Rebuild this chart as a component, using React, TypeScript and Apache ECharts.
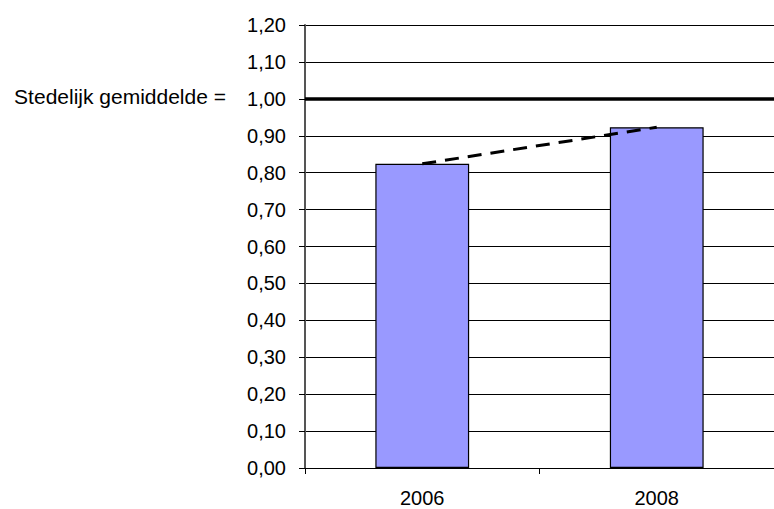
import React, { useEffect, useRef } from "react";
import * as echarts from "echarts";

const categories = ["2006", "2008"];
const values = [0.824, 0.923];
const cityAverage = 1.0;
const averageLabel = "Stedelijk gemiddelde =";

export default function App() {
  const ref = useRef<HTMLDivElement>(null);
  useEffect(() => {
    const chart = echarts.init(ref.current!, null, { renderer: "svg" });
    const font = "Liberation Sans";
    chart.setOption({
      animation: false,
      backgroundColor: "#ffffff",
      grid: { left: 305, top: 25, width: 474, height: 443, containLabel: false },
      xAxis: {
        type: "category",
        data: categories,
        boundaryGap: true,
        axisLine: { show: true, lineStyle: { color: "#000", width: 1 } },
        axisTick: { show: true, alignWithLabel: false, length: 6, lineStyle: { color: "#000" } },
        axisLabel: { color: "#000", fontSize: 20, fontFamily: font, margin: 20 },
        splitLine: { show: false },
      },
      yAxis: {
        type: "value",
        min: 0,
        max: 1.2,
        interval: 0.1,
        axisLine: { show: true, lineStyle: { color: "#555", width: 2 } },
        axisTick: { show: true, length: 6, lineStyle: { color: "#000" } },
        axisLabel: {
          color: "#000",
          fontSize: 20,
          fontFamily: font,
          margin: 19,
          formatter: (v: number) => v.toFixed(2).replace(".", ","),
        },
        splitLine: { show: true, lineStyle: { color: "#000", width: 1 } },
      },
      graphic: [
        {
          type: "text",
          x: 226,
          y: 96,
          style: {
            text: averageLabel,
            fill: "#000",
            fontSize: 21,
            fontFamily: font,
            textAlign: "right",
            textVerticalAlign: "middle",
          },
        },
      ],
      series: [
        {
          type: "bar",
          data: values,
          barWidth: "40%",
          itemStyle: { color: "#9999ff", borderColor: "#000", borderWidth: 1.2 },
          markLine: {
            silent: true,
            symbol: "none",
            label: { show: false },
            lineStyle: { color: "#000", width: 3.5, type: "solid" },
            data: [{ yAxis: cityAverage }],
          },
          z: 2,
        },
        {
          type: "line",
          data: values,
          symbol: "none",
          lineStyle: { color: "#000", width: 3, type: [14, 9] },
          z: 3,
        },
      ],
    });
    return () => chart.dispose();
  }, []);
  return (
    <div
      ref={ref}
      style={{ position: "absolute", left: 0, top: 0, width: 774, height: 509 }}
    />
  );
}
